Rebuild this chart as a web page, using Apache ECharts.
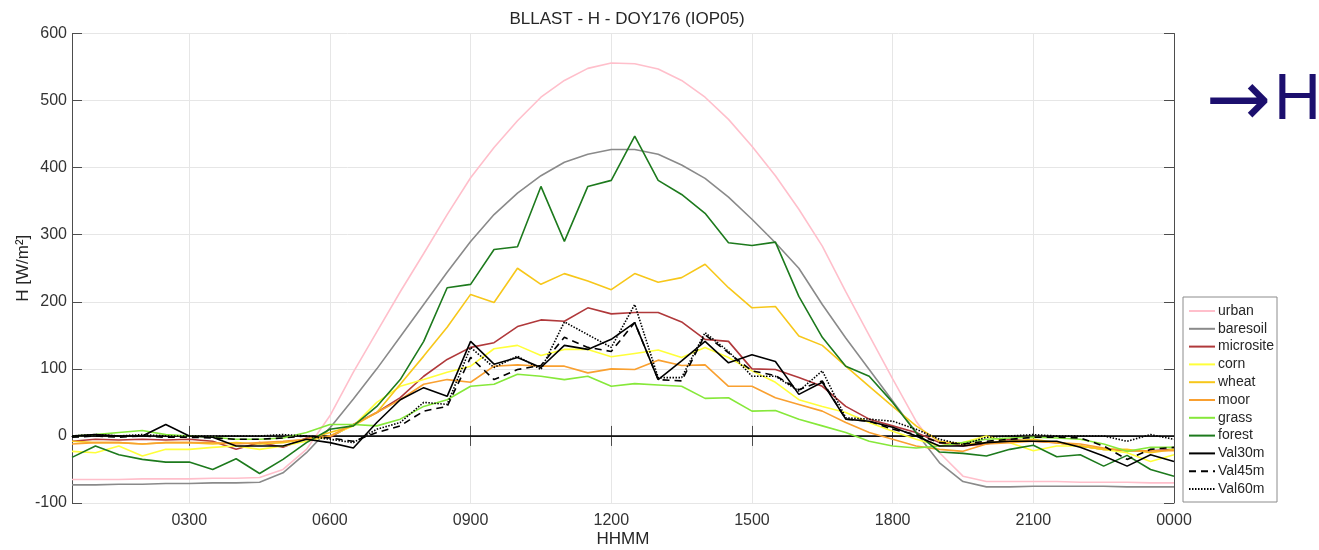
<!DOCTYPE html>
<html>
<head>
<meta charset="utf-8">
<script src="https://cdn.jsdelivr.net/npm/echarts@6/dist/echarts.min.js"></script>
<style>html,body{margin:0;padding:0;background:#fff}#c{width:1319px;height:550px}</style>
</head>
<body>
<div id="c"></div>
<script>
// time stamps (HHMM), 30-min steps from 0030 to 0000
const times = ["0030","0100","0130","0200","0230","0300","0330","0400","0430","0500","0530","0600",
"0630","0700","0730","0800","0830","0900","0930","1000","1030","1100","1130","1200",
"1230","1300","1330","1400","1430","1500","1530","1600","1630","1700","1730","1800",
"1830","1900","1930","2000","2030","2100","2130","2200","2230","2300","2330","0000"];
const tickLabels = ["0300","0600","0900","1200","1500","1800","2100","0000"];

const urban = [-65,-65,-65,-64,-64,-64,-63,-63,-62,-50,-20,30,95,155,215,272,330,385,430,470,505,530,548,556,
555,547,530,505,472,432,388,338,283,215,150,85,22,-25,-60,-68,-68,-68,-68,-69,-69,-69,-70,-70];
const baresoil = [-73,-73,-72,-72,-71,-71,-70,-70,-69,-55,-25,12,55,100,148,196,244,290,330,362,388,408,420,427,
427,420,404,384,356,323,288,250,196,146,99,52,5,-40,-68,-76,-76,-75,-75,-75,-75,-76,-76,-76];
const microsite = [-8,-5,-6,-5,-6,-5,-8,-20,-10,-17,-3,-2,17,35,57,89,114,132,139,163,173,171,191,182,
184,184,170,144,141,100,99,87,74,44,25,15,5,-10,-15,-12,-5,-8,-10,-15,-20,-22,-22,-20];
const corn = [-23,-25,-15,-30,-20,-20,-17,-15,-20,-15,-8,0,15,50,74,84,95,104,130,135,120,129,129,118,
123,128,117,132,117,97,80,54,44,35,20,7,-5,-15,-10,0,-10,-22,-15,-15,-20,-25,-38,-28];
const wheat = [-8,-10,-10,-12,-10,-10,-12,-10,-12,-10,-5,5,15,35,77,119,162,211,199,250,226,242,231,218,
242,229,236,256,221,191,193,149,135,104,74,44,15,-8,-12,-10,-8,-5,-10,-15,-20,-20,-25,-20];
const moor = [-12,-10,-10,-12,-10,-10,-10,-12,-10,-8,-5,0,17,35,54,77,84,80,104,106,104,104,94,100,
99,113,105,106,74,74,57,47,37,20,5,-5,-15,-20,-23,-12,-10,-8,-10,-12,-18,-22,-22,-22];
const grass = [0,2,5,8,2,0,-2,-5,-5,-3,5,17,17,15,25,44,54,74,77,92,89,84,89,74,
78,76,74,56,57,37,38,25,15,5,-8,-15,-18,-15,-10,-5,-3,-2,-3,-5,-12,-23,-17,-17];
const forest = [-32,-15,-28,-35,-39,-39,-50,-34,-56,-35,-10,10,15,44,84,141,221,226,278,282,372,290,372,381,
447,381,360,332,288,284,289,208,147,104,89,50,5,-24,-26,-30,-20,-14,-31,-28,-45,-29,-50,-60];
const val30m = [0,2,0,0,17,0,-2,-15,-15,-15,-5,-10,-18,20,54,72,59,141,107,117,102,135,129,144,
169,84,112,141,109,121,111,62,80,25,22,13,0,-15,-15,-10,-8,-8,-8,-17,-30,-45,-28,-38];
const val45m = [-2,0,-2,0,-2,-2,-3,-5,-5,-3,0,-3,-8,5,15,37,44,117,84,99,105,147,132,126,
169,84,82,151,124,97,90,69,82,25,22,10,2,-10,-12,-8,-5,-2,-2,-3,-15,-35,-20,-17];
const val60m = [0,2,0,2,0,0,0,0,0,2,0,-5,-10,10,20,50,47,132,102,119,99,170,151,132,
196,87,87,154,126,89,89,67,97,27,25,22,10,-5,-13,-2,0,2,0,0,0,-8,2,-5];

const seriesDefs = [
  ["urban", urban, "#ffbfcb", "solid"],
  ["baresoil", baresoil, "#8a8a8a", "solid"],
  ["microsite", microsite, "#b0393b", "solid"],
  ["corn", corn, "#ffff3a", "solid"],
  ["wheat", wheat, "#f7c71a", "solid"],
  ["moor", moor, "#f9a030", "solid"],
  ["grass", grass, "#86e83a", "solid"],
  ["forest", forest, "#1d7a1d", "solid"],
  ["Val30m", val30m, "#000000", "solid"],
  ["Val45m", val45m, "#000000", [7,5]],
  ["Val60m", val60m, "#000000", [1.5,1.5]]
];

const FONT = '"Liberation Sans", Arial, Helvetica, sans-serif';
const isTick = (idx) => (idx + 1) % 6 === 0;

const series = seriesDefs.map(([name, data, color, type], k) => ({
  name, type: 'line', data, symbol: 'none', smooth: false,
  lineStyle: { color, width: 1.6, type },
  itemStyle: { color },
  z: 3 + k,
  animation: false
}));
series[0].markLine = {
  silent: true, symbol: 'none', animation: false,
  label: { show: false },
  lineStyle: { color: '#000', type: 'solid', width: 1.6 },
  data: [{ yAxis: 0 }]
};

const chart = echarts.init(document.getElementById('c'), null, { renderer: 'canvas' });
chart.setOption({
  backgroundColor: '#fff',
  animation: false,
  textStyle: { fontFamily: FONT },
  title: {
    text: 'BLLAST - H - DOY176 (IOP05)',
    left: 622, top: 6, textAlign: 'center',
    textStyle: { fontFamily: FONT, fontSize: 17, fontWeight: 'normal', color: '#262626' }
  },
  grid: { left: 72, right: 145, top: 33.5, bottom: 47, containLabel: false, outerBoundsMode: 'none' },
  legend: {
    orient: 'vertical', left: 1183, top: 297,
    data: seriesDefs.map(d => d[0]),
    itemWidth: 26, itemHeight: 12, itemGap: 3.8,
    padding: [7, 3, 6, 5],
    borderColor: '#8c8c8c', borderWidth: 1, backgroundColor: '#fff',
    selectedMode: false,
    itemStyle: { opacity: 0 },
    textStyle: { fontFamily: FONT, fontSize: 14, color: '#262626', padding: [0, 0, 0, -2] }
  },
  xAxis: [{
    type: 'category', data: times, boundaryGap: false,
    name: 'HHMM', nameLocation: 'middle', nameGap: 28, nameMoveOverlap: false,
    nameTextStyle: { fontFamily: FONT, fontSize: 17, color: '#262626' },
    axisLine: { lineStyle: { color: '#4d4d4d', width: 1 } },
    axisTick: { inside: true, length: 10, interval: isTick, lineStyle: { color: '#4d4d4d' } },
    axisLabel: { interval: isTick, fontSize: 16, color: '#333', margin: 10,
      formatter: (v) => tickLabels.includes(v) ? v : '' },
    splitLine: { show: true, interval: isTick, lineStyle: { color: '#e6e6e6', width: 1 } }
  }, {
    type: 'category', data: times, boundaryGap: false, position: 'top',
    axisLine: { lineStyle: { color: '#4d4d4d', width: 1 } },
    axisTick: { inside: true, length: 10, interval: isTick, lineStyle: { color: '#4d4d4d' } },
    axisLabel: { show: false }, splitLine: { show: false }
  }],
  yAxis: [{
    type: 'value', min: -100, max: 600, interval: 100,
    name: 'H [W/m²]', nameLocation: 'middle', nameGap: 40, nameMoveOverlap: false,
    nameTextStyle: { fontFamily: FONT, fontSize: 17, color: '#262626' },
    axisLine: { show: true, lineStyle: { color: '#4d4d4d', width: 1 } },
    axisTick: { show: true, inside: true, length: 10, lineStyle: { color: '#4d4d4d' } },
    axisLabel: { fontSize: 16, color: '#333', margin: 5 },
    splitLine: { show: true, lineStyle: { color: '#e6e6e6', width: 1 } }
  }, {
    type: 'value', min: -100, max: 600, interval: 100, position: 'right',
    axisLine: { show: true, lineStyle: { color: '#4d4d4d', width: 1 } },
    axisTick: { show: true, inside: true, length: 10, lineStyle: { color: '#4d4d4d' } },
    axisLabel: { show: false }, splitLine: { show: false }
  }],
  graphic: [{
    type: 'text', left: 1206, top: 66, silent: true,
    style: { text: '→', font: '78px "DejaVu Sans", sans-serif', fill: '#1c0f6e' }
  }, {
    type: 'text', left: 1274, top: 69, silent: true,
    style: { text: 'H', font: '65px ' + FONT, fill: '#1c0f6e' }
  }],
  series
});
</script>
</body>
</html>
